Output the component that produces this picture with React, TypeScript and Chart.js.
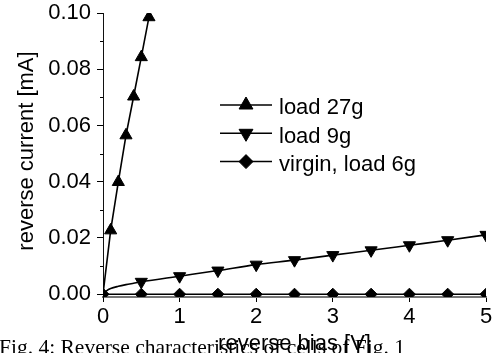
import { useEffect, useRef } from 'react';
import { Chart, registerables } from 'chart.js';
import { drawPoint } from 'chart.js/helpers';

Chart.register(...registerables);

// Axis ticks
const biasTicks = [0, 1, 2, 3, 4, 5];
const currentTicks = [0, 0.02, 0.04, 0.06, 0.08, 0.1];
const currentMinorTicks = [0.01, 0.03, 0.05, 0.07, 0.09];

// Text
const xTitle = 'reverse bias [V]';
const yTitle = 'reverse current [mA]';
const captionText = 'Fig. 4: Reverse characteristics of cells of Fig. 1';
const seriesLabels = ['load 27g', 'load 9g', 'virgin, load 6g'];

// Measured curves: reverse bias [V] and reverse current [mA]
const load27Bias = [0, 0.1, 0.2, 0.3, 0.4, 0.5, 0.6];
const load27Current = [0, 0.0227, 0.0399, 0.0565, 0.0703, 0.0843, 0.0985];

const load9Bias = [0, 0.05, 0.1, 0.2, 0.3, 0.4, 0.5, 1, 1.5, 2, 2.5, 3, 3.5, 4, 4.5, 5];
const load9Current = [
  0, 0.0013, 0.002, 0.0028, 0.0034, 0.0039, 0.0044, 0.0064, 0.0084, 0.0105, 0.0121, 0.0139,
  0.0156, 0.0174, 0.0192, 0.0211,
];

const virginBias = [0, 0.5, 1, 1.5, 2, 2.5, 3, 3.5, 4, 4.5, 5];
const virginCurrent = [0, 0, 0, 0, 0, 0, 0, 0, 0, 0, 0];

const FONT = '"Liberation Sans", Arial, Helvetica, sans-serif';
const SERIF = '"Liberation Serif", "Times New Roman", Times, serif';

const toPoints = (xs: number[], ys: number[]) => xs.map((x, i) => ({ x, y: ys[i] }));
const onHalfStep = (x: number) => x > 0 && Math.abs(x * 2 - Math.round(x * 2)) < 1e-9;

const legendStyles = [
  { pointStyle: 'triangle', rotation: 0, radius: 8 },
  { pointStyle: 'triangle', rotation: 180, radius: 8 },
  { pointStyle: 'rectRot', rotation: 0, radius: 7 },
];

const decorPlugin = {
  id: 'decor',
  beforeDraw(chart: any) {
    const ctx = chart.ctx as CanvasRenderingContext2D;
    ctx.save();
    ctx.fillStyle = '#fff';
    ctx.fillRect(0, 0, chart.width, chart.height);
    ctx.fillStyle = '#000';
    ctx.font = `21.5px ${SERIF}`;
    ctx.textAlign = 'left';
    ctx.textBaseline = 'alphabetic';
    ctx.fillText(captionText, -1, 354);
    ctx.restore();
  },
  afterDraw(chart: any) {
    const ctx = chart.ctx as CanvasRenderingContext2D;
    const area = chart.chartArea;
    const yScale = chart.scales.y;
    ctx.save();
    ctx.strokeStyle = '#000';
    ctx.fillStyle = '#000';

    // minor ticks on the current axis
    ctx.lineWidth = 1;
    ctx.beginPath();
    for (const v of currentMinorTicks) {
      const py = Math.round(yScale.getPixelForValue(v)) + 0.5;
      ctx.moveTo(area.left - 3, py);
      ctx.lineTo(area.left, py);
    }
    ctx.stroke();

    // axis titles
    ctx.font = `22px ${FONT}`;
    ctx.textAlign = 'center';
    ctx.textBaseline = 'alphabetic';
    ctx.fillText(xTitle, (area.left + area.right) / 2, 350);
    ctx.save();
    ctx.translate(33, 151);
    ctx.rotate(-Math.PI / 2);
    ctx.fillText(yTitle, 0, 0);
    ctx.restore();

    // legend
    ctx.textAlign = 'left';
    chart.data.datasets.forEach((ds: any, i: number) => {
      const rowY = 105 + i * 28.3;
      ctx.lineWidth = 1.5;
      ctx.beginPath();
      ctx.moveTo(220, rowY);
      ctx.lineTo(272, rowY);
      ctx.stroke();
      const st = legendStyles[i];
      ctx.lineWidth = 1;
      drawPoint(ctx, { pointStyle: st.pointStyle as any, rotation: st.rotation, radius: st.radius, borderWidth: 1 }, 246, rowY);
      ctx.font = `22px ${FONT}`;
      ctx.fillText(ds.label, 279, rowY + 9.3);
    });
    ctx.restore();
  },
};

export default function App() {
  const canvasRef = useRef<HTMLCanvasElement | null>(null);

  useEffect(() => {
    if (!canvasRef.current) return;
    Chart.defaults.color = '#000';
    const common = {
      borderColor: '#000',
      backgroundColor: '#000',
      pointBackgroundColor: '#000',
      pointBorderColor: '#000',
      borderWidth: 1.6,
      pointBorderWidth: 1,
      clip: 0,
      tension: 0,
    };
    const chart = new Chart(canvasRef.current, {
      type: 'line',
      data: {
        datasets: [
          {
            ...common,
            label: seriesLabels[0],
            data: toPoints(load27Bias, load27Current),
            pointStyle: 'triangle',
            pointRotation: 0,
            pointRadius: (c: any) => (c.raw && c.raw.x > 0 ? 7 : 0),
          },
          {
            ...common,
            label: seriesLabels[1],
            data: toPoints(load9Bias, load9Current),
            pointStyle: 'triangle',
            pointRotation: 180,
            cubicInterpolationMode: 'monotone',
            pointRadius: (c: any) => (c.raw && onHalfStep(c.raw.x) ? 7 : 0),
          },
          {
            ...common,
            label: seriesLabels[2],
            data: toPoints(virginBias, virginCurrent),
            pointStyle: 'rectRot',
            pointRadius: 6,
          },
        ] as any,
      },
      options: {
        animation: false,
        responsive: false,
        devicePixelRatio: 1,
        events: [],
        layout: { padding: { top: 13, right: 5, left: 0, bottom: 0 } },
        plugins: { legend: { display: false }, tooltip: { enabled: false }, title: { display: false } },
        scales: {
          x: {
            type: 'linear',
            min: 0,
            max: 5,
            afterBuildTicks: (s: any) => {
              s.ticks = biasTicks.map((v) => ({ value: v }));
            },
            afterFit: (s: any) => {
              s.height = 56;
              s.paddingLeft = 0;
              s.paddingRight = 0;
            },
            grid: { drawOnChartArea: false, tickLength: 5, color: '#000', lineWidth: 1 },
            border: { display: true, color: '#777', width: 2 },
            ticks: {
              padding: 2,
              maxRotation: 0,
              autoSkip: false,
              color: '#000',
              font: { size: 22, family: FONT },
              callback: (v: any) => String(v),
            },
          },
          y: {
            type: 'linear',
            min: -0.001,
            max: 0.1,
            afterBuildTicks: (s: any) => {
              s.ticks = currentTicks.map((v) => ({ value: v }));
            },
            afterFit: (s: any) => {
              s.width = 103;
              s.paddingTop = 0;
              s.paddingBottom = 0;
            },
            grid: { drawOnChartArea: false, tickLength: 6, color: '#000', lineWidth: 1 },
            border: { display: true, color: '#111', width: 1 },
            ticks: {
              padding: 6,
              autoSkip: false,
              color: '#000',
              font: { size: 22, family: FONT },
              callback: (v: any) => Number(v).toFixed(2),
            },
          },
        },
      } as any,
      plugins: [decorPlugin],
    });
    return () => chart.destroy();
  }, []);

  return (
    <div style={{ position: 'absolute', left: 0, top: 0, width: 494, height: 353, background: '#fff' }}>
      <canvas ref={canvasRef} width={494} height={353} style={{ display: 'block' }} />
    </div>
  );
}
